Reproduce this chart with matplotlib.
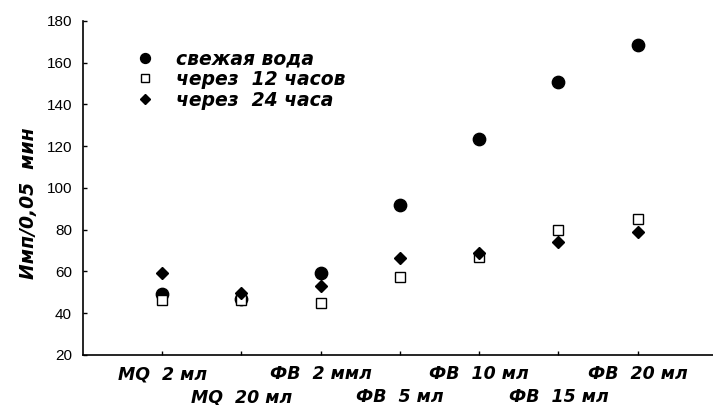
import matplotlib
matplotlib.use("Agg")
import matplotlib.pyplot as plt

# категории и данные (Имп/0,05 мин)
categories = ["MQ  2 мл", "MQ  20 мл", "ФВ  2 ммл", "ФВ  5 мл",
              "ФВ  10 мл", "ФВ  15 мл", "ФВ  20 мл"]
fresh = [49.4, 46.8, 59.1, 91.7, 123.3, 150.8, 168.6]
after12 = [46.5, 46.3, 44.8, 57.2, 66.8, 80.0, 85.0]
after24 = [59.4, 49.8, 53.0, 66.6, 68.7, 74.1, 78.9]
yticks = [20, 40, 60, 80, 100, 120, 140, 160, 180]

plt.rcParams['font.family'] = ['Liberation Sans', 'DejaVu Sans']
bold_it = {"family": "DejaVu Sans", "weight": "bold", "style": "oblique"}

fig = plt.figure(figsize=(7.13, 4.05), dpi=100)
ax = fig.add_axes([0.1164, 0.1235, 0.8836, 0.8247])

x = list(range(1, len(categories) + 1))
ax.plot(x, fresh, linestyle="none", marker="o", markersize=8.9,
        color="black", label="свежая вода")
ax.plot(x, after12, linestyle="none", marker="s", markersize=7.2,
        markerfacecolor="white", markeredgecolor="black", markeredgewidth=1.0,
        label="через  12 часов")
ax.plot(x, after24, linestyle="none", marker="D", markersize=6.2,
        color="black", label="через  24 часа")

ax.set_xlim(0, 7.95)
ax.set_ylim(20, 180)
ax.set_yticks(yticks)
ax.set_yticklabels([str(v) for v in yticks], fontsize=11)

# подписи категорий в два ряда: нечётные - основные деления, чётные - вспомогательные
ax.set_xticks(x[0::2])
ax.set_xticklabels(categories[0::2], fontsize=12.5, **bold_it)
ax.set_xticks(x[1::2], minor=True)
ax.set_xticklabels(categories[1::2], minor=True, fontsize=12.5, **bold_it)

ax.tick_params(axis="both", which="both", direction="in", length=3, width=1)
ax.tick_params(axis="x", which="major", pad=7.5)
ax.tick_params(axis="x", which="minor", pad=24)
ax.tick_params(axis="y", pad=8)
for side in ["top", "right"]:
    ax.spines[side].set_visible(False)
for side in ["left", "bottom"]:
    ax.spines[side].set_linewidth(1.2)

ax.set_ylabel("Имп/0,05  мин", fontsize=13.5, **bold_it)
ax.yaxis.set_label_coords(-0.072, 0.455)

leg = ax.legend(loc="upper left", bbox_to_anchor=(0.072, 0.937), frameon=False,
                prop={"size": 13.5, **bold_it}, markerscale=0.8,
                handlelength=1.0, handletextpad=1.15, labelspacing=0.08,
                borderaxespad=0)

fig.savefig("out.png", dpi=100)
